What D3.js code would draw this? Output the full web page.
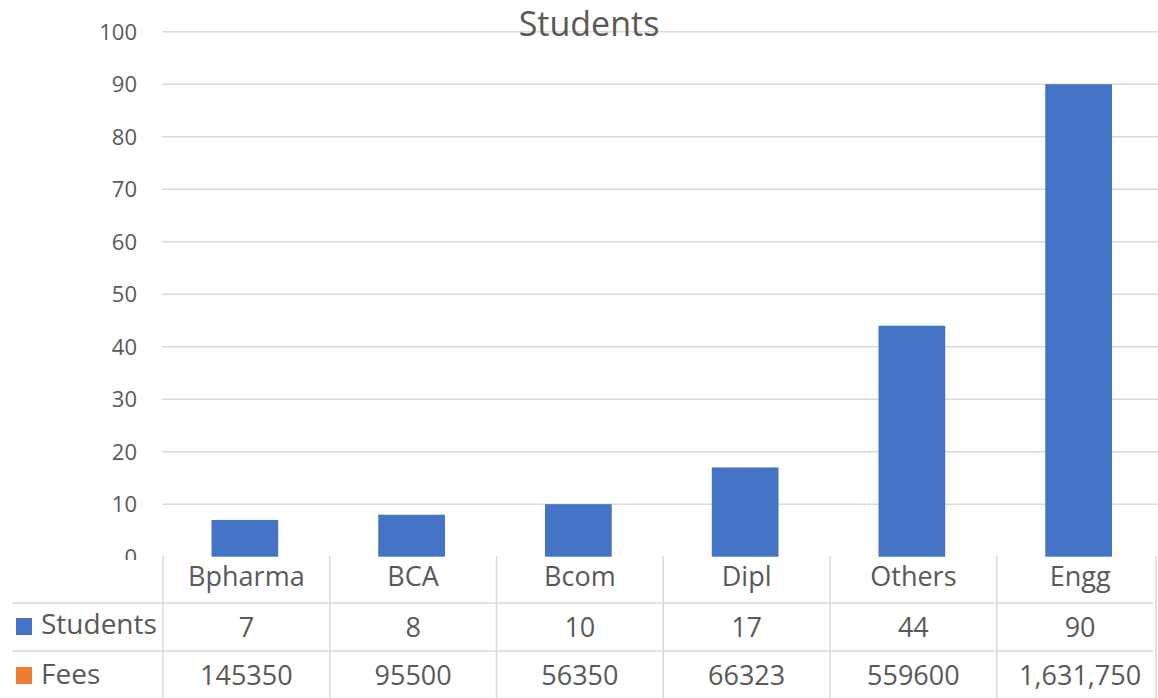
<!DOCTYPE html>
<html><head><meta charset="utf-8">
<script src="https://cdn.jsdelivr.net/npm/d3@7"></script>
<style>body{margin:0;background:#fff;} text{font-family:"Open Sans",sans-serif;fill:#595959;}</style>
</head><body>
<svg id="c" width="1158" height="698"></svg>
<script>
const categories = ["Bpharma","BCA","Bcom","Dipl","Others","Engg"];
const students = [7,8,10,17,44,90];
const feesLabels = ["145350","95500","56350","66323","559600","1,631,750"];
const yTicks = [0,10,20,30,40,50,60,70,80,90,100];
const seriesNames = ["Students","Fees"];
const seriesColors = ["#4472C4","#ED7D31"];

const svg = d3.select("#c");
const W = 1158, H = 698;
const x = d3.scaleBand().domain(categories).range([163, 1163.5]).paddingInner(0).paddingOuter(0);
const y = d3.scaleLinear().domain([0,100]).range([556.7, 31.7]);
const grid = "#d9d9d9";

// gridlines
svg.append("g").selectAll("line").data(yTicks.filter(d=>d>0)).join("line")
  .attr("x1",162).attr("x2",W).attr("y1",d=>y(d)).attr("y2",d=>y(d))
  .attr("stroke",grid).attr("stroke-width",1.5);

// y axis labels
svg.append("defs").append("clipPath").attr("id","clip0").append("rect")
  .attr("x",0).attr("y",0).attr("width",160).attr("height",560);
svg.append("g").selectAll("text").data(yTicks).join("text")
  .attr("x",137).attr("y",d=>y(d)).attr("dy","0.36em").attr("text-anchor","end")
  .attr("font-size",22).attr("clip-path",d=>d===0?"url(#clip0)":null).text(d=>d);

// bars
const bw = x.bandwidth()*0.4;
svg.append("g").selectAll("rect").data(categories).join("rect")
  .attr("x",d=>x(d)+x.bandwidth()/2-bw/2-1.5).attr("width",bw)
  .attr("y",(d,i)=>y(students[i])).attr("height",(d,i)=>y(0)-y(students[i]))
  .attr("fill",seriesColors[0]);

// title
svg.append("text").attr("x",589).attr("y",36).attr("text-anchor","middle")
  .attr("font-size",34).text("Students");

// data table
const tbl = svg.append("g");
const rowTop = 556, r1 = 603, r2 = 651;
[r1, r2].forEach(yy => tbl.append("line").attr("x1",12).attr("x2",1153)
  .attr("y1",yy).attr("y2",yy).attr("stroke",grid).attr("stroke-width",1.5));
const vlines = categories.map(c=>x(c)).concat([1156]);
tbl.selectAll("line.v").data(vlines).join("line").attr("class","v")
  .attr("x1",d=>d).attr("x2",d=>d).attr("y1",rowTop).attr("y2",H)
  .attr("stroke",grid).attr("stroke-width",1.5);

const fs = 27;
tbl.selectAll("text.cat").data(categories).join("text").attr("class","cat")
  .attr("x",d=>x(d)+x.bandwidth()/2).attr("y",586).attr("text-anchor","middle")
  .attr("font-size",fs).text(d=>d);
tbl.selectAll("text.s").data(students).join("text").attr("class","s")
  .attr("x",(d,i)=>x(categories[i])+x.bandwidth()/2).attr("y",637).attr("text-anchor","middle")
  .attr("font-size",fs).text(d=>d);
tbl.selectAll("text.f").data(feesLabels).join("text").attr("class","f")
  .attr("x",(d,i)=>x(categories[i])+x.bandwidth()/2).attr("y",685).attr("text-anchor","middle")
  .attr("font-size",fs).text(d=>d);

// legend keys in table
const keyY = [618, 667], baseY = [634, 684];
seriesNames.forEach((n,i)=>{
  tbl.append("rect").attr("x",16).attr("y",keyY[i]).attr("width",16).attr("height",17).attr("fill",seriesColors[i]);
  tbl.append("text").attr("x",41).attr("y",baseY[i]).attr("font-size",28).text(n);
});
</script>
</body></html>
